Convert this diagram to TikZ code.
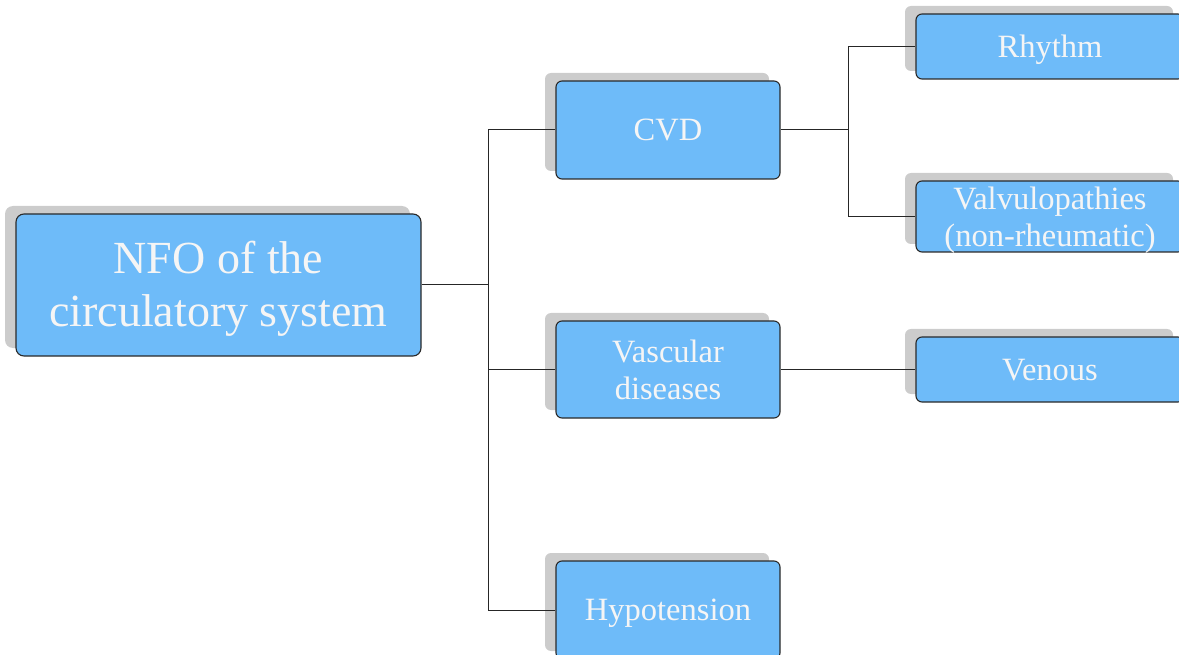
\documentclass[tikz,border=0pt]{standalone}
\usepackage{fontspec}
\setmainfont{Liberation Serif}
\usetikzlibrary{shadows}
\definecolor{boxfill}{HTML}{6EBBF9}
\definecolor{boxline}{HTML}{2A2A2A}
\definecolor{shade}{HTML}{CCCCCC}
% a strut as tall as the font's ascent and descent, so lines centre as in a text frame
\newcommand\linestrut{\rule[-0.216em]{0pt}{1.107em}}
% a strut for the first of two lines, its height set by the argument
\newcommand\topstrut[1]{\rule{0pt}{\dimexpr0.891em+#1\relax}}
\tikzset{
  box/.style={draw=boxline, line width=1.1pt, fill=boxfill, rounded corners=6pt,
    text=white!96!black, align=center, inner sep=0pt,
    execute at begin node=\linestrut, execute at end node=\linestrut,
    drop shadow={shadow xshift=-11pt, shadow yshift=8pt, fill=shade, opacity=1}},
  bigbox/.style={box, rounded corners=8pt, font=\fontsize{46}{53}\selectfont},
  smallbox/.style={box, font=\fontsize{32.5}{37}\selectfont},
  link/.style={draw=black!85, line width=1pt}
}
\begin{document}
\begin{tikzpicture}[x=1pt, y=-1pt]
\useasboundingbox (0,0) rectangle (1179,655);

% root
\node[bigbox, minimum width=405pt, minimum height=142pt] (main) at (218.5,285) {\topstrut{-2pt}NFO of the\\circulatory system};

% second level
\node[smallbox, minimum width=224pt, minimum height=98pt] (cvd)  at (668,130)   {CVD};
\node[smallbox, minimum width=224pt, minimum height=97pt] (vasc) at (668,369.5) {\topstrut{2pt}Vascular\\diseases};
\node[smallbox, minimum width=224pt, minimum height=98pt] (hypo) at (668,610)   {Hypotension};

% third level
\node[smallbox, minimum width=268pt, minimum height=65pt] (rhythm) at (1050,46.5)  {Rhythm};
\node[smallbox, minimum width=268pt, minimum height=71pt, inner ysep=-8pt] (valv) at (1050,216.5) {\topstrut{2pt}Valvulopathies\\(non-rheumatic)};
\node[smallbox, minimum width=268pt, minimum height=65pt] (venous) at (1050,369.5) {Venous};

% junctions
\coordinate (j1) at (488,285);
\coordinate (j2) at (848,130);

\draw[link] (main.east) -- (j1);
\draw[link] (j1) |- (cvd.west);
\draw[link] (j1) |- (vasc.west);
\draw[link] (j1) |- (hypo.west);

\draw[link] (cvd.east) -- (j2);
\draw[link] (j2) |- (rhythm.west);
\draw[link] (j2) |- (valv.west);

\draw[link] (vasc.east) -- (venous.west);
\end{tikzpicture}
\end{document}
